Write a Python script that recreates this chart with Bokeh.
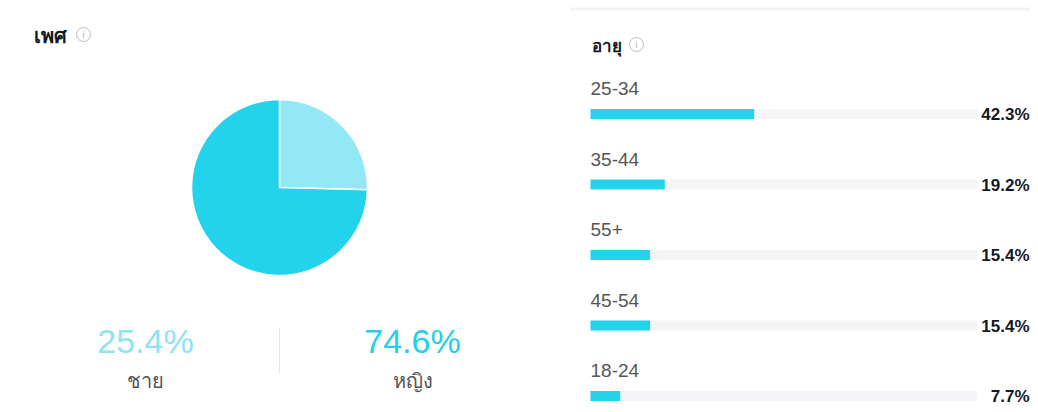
import math
from bokeh.plotting import figure
from bokeh.models import Range1d, ColumnDataSource
from bokeh.core.properties import value
from bokeh.embed import file_html
from bokeh.resources import INLINE

# ---- data ----
gender_labels = ["ชาย", "หญิง"]
gender_pct = [25.4, 74.6]
gender_colors = ["#92e9f5", "#22d3eb"]
gender_text_colors = ["#8ee3f0", "#25cfe7"]

age_labels = ["25-34", "35-44", "55+", "45-54", "18-24"]
age_pct = [42.3, 19.2, 15.4, 15.4, 7.7]

gender_title = "เพศ"
age_title = "อายุ"

# ---- layout (reference pixel coordinates) ----
W, H = 1030, 410
def Y(ry):
    return H - ry

FONT = value("Liberation Sans")
THAI = value("Noto Sans")

p = figure(width=W, height=H, x_range=Range1d(0, W), y_range=Range1d(0, H),
           output_backend="svg", toolbar_location=None, min_border=0)
p.axis.visible = False
p.grid.visible = False
p.outline_line_color = None
p.background_fill_color = "white"
p.border_fill_color = "white"

# titles + info icons
p.text(x=[33], y=[Y(35)], text=[gender_title], text_font=THAI, text_font_size="20px",
       text_font_style="bold", text_baseline="middle", text_align="left", text_color="#161823")
p.text(x=[591], y=[Y(45)], text=[age_title], text_font=THAI, text_font_size="17px",
       text_font_style="bold", text_baseline="middle", text_align="left", text_color="#161823")
for cx, cy in [(83, 34), (636, 44)]:
    p.scatter(x=[cx], y=[Y(cy)], size=14, marker="circle", fill_color=None,
              line_color="#bdbdbd", line_width=1)
    p.text(x=[cx], y=[Y(cy)], text=["i"], text_font=FONT, text_font_size="9px",
           text_baseline="middle", text_align="center", text_color="#b0b0b0")

# top separator on right panel
p.quad(left=[570], right=[1030], top=[Y(7)], bottom=[Y(10)], fill_color="#f3f3f4", line_color=None)

# ---- pie ----
cx, cy, r = 279, 187, 88
starts, ends = [], []
acc = 0.0
total = sum(gender_pct)
for v in gender_pct:
    a0 = math.pi / 2 - acc / total * 2 * math.pi
    acc += v
    a1 = math.pi / 2 - acc / total * 2 * math.pi
    starts.append(a0)
    ends.append(a1)
src = ColumnDataSource(dict(x=[cx] * 2, y=[Y(cy)] * 2, start=starts, end=ends, color=gender_colors))
p.wedge(x="x", y="y", radius=r, start_angle="start", end_angle="end", direction="clock",
        fill_color="color", line_color="white", line_width=1.5, source=src)

# gender stats
gx = [145, 412]
p.text(x=gx, y=[Y(340)] * 2, text=[f"{v:.1f}%" for v in gender_pct], text_font=FONT,
       text_font_size="34px", text_baseline="middle", text_align="center",
       text_color=gender_text_colors)
p.text(x=gx, y=[Y(380)] * 2, text=gender_labels, text_font=THAI, text_font_size="20px",
       text_baseline="middle", text_align="center", text_color="#555555")
p.segment(x0=[279], y0=[Y(327)], x1=[279], y1=[Y(373)], line_color="#e6e6e6", line_width=1)

# ---- age bars ----
bx0, track_w = 590, 387
label_y = [88 + i * 70.5 for i in range(len(age_labels))]
bar_y = [ly + 25.5 for ly in label_y]
p.hbar(y=[Y(b) for b in bar_y], left=bx0, right=bx0 + track_w, height=10,
       fill_color="#f5f5f7", line_color=None)
p.hbar(y=[Y(b) for b in bar_y], left=bx0, right=[bx0 + v / 100 * track_w for v in age_pct],
       height=10, fill_color="#22d3eb", line_color=None)
p.text(x=[bx0] * len(age_labels), y=[Y(l) for l in label_y], text=age_labels, text_font=FONT,
       text_font_size="19px", text_baseline="middle", text_align="left", text_color="#555555")
p.text(x=[1029] * len(age_labels), y=[Y(b + 0.5) for b in bar_y], text=[f"{v}%" for v in age_pct],
       text_font=FONT, text_font_size="17px", text_font_style="bold", text_baseline="middle",
       text_align="right", text_color="#161823")

open("out.html", "w").write(file_html(p, INLINE))
